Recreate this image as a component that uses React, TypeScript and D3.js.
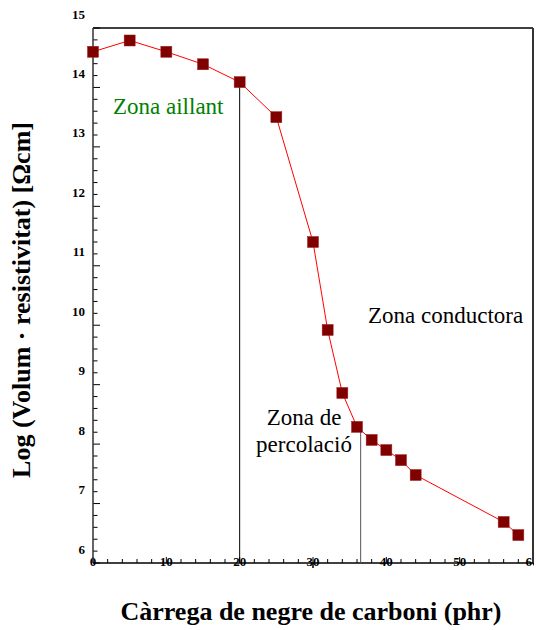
import React from "react";
import * as d3 from "d3";

const carbon = [0, 5, 10, 15, 20, 25, 30, 32, 34, 36, 38, 40, 42, 44, 56, 58];
const logRes = [14.6, 14.79, 14.6, 14.39, 14.09, 13.5, 11.4, 9.92, 8.86, 8.29, 8.07, 7.9, 7.73, 7.48, 6.69, 6.47];
const yTickLabels = [6, 7, 8, 9, 10, 11, 12, 13, 14, 15];
const xTickLabels = [0, 10, 20, 30, 40, 50, 60];
const insulatingLimit = 20;
const percolationLimit = 36.5;
const percolationValue = 8.29;

const W = 536;
const H = 630;
const left = 93, right = 533, top = 28, bottom = 563;

export default function App() {
  const x = d3.scaleLinear().domain([0, 60]).range([left, right]);
  const y = d3.scaleLinear().domain([6, 15]).range([bottom, top]);
  const line = d3.line<number>().x((_, i) => x(carbon[i])).y((d) => y(d));
  const yMinor = d3.range(6, 15.001, 0.2);
  const xMinor = d3.range(0, 60.001, 2);
  const serif = "'Liberation Serif', 'Times New Roman', serif";
  const ms = 11;
  const i20 = carbon.indexOf(insulatingLimit);

  return (
    <svg width={W} height={H} style={{ position: "absolute", left: 0, top: 0 }} fontFamily={serif}>
      <rect width={W} height={H} fill="#fff" />
      {/* y ticks */}
      {yMinor.map((v, i) => {
        const major = Math.abs(v - Math.round(v)) < 1e-6;
        return <line key={"ym" + i} x1={left} x2={left + (major ? 7 : 4.5)} y1={y(v)} y2={y(v)} stroke="#000" strokeWidth={1} />;
      })}
      {yTickLabels.map((v) => (
        <text key={"yl" + v} x={85} y={y(v) - 14} dy="0.35em" textAnchor="end" fontSize={13} fontWeight="bold">{v}</text>
      ))}
      {/* x ticks */}
      {xMinor.map((v, i) => (
        <line key={"xm" + i} x1={x(v)} x2={x(v)} y1={bottom} y2={bottom - (v % 10 === 0 ? 6 : 4)} stroke="#000" strokeWidth={1} />
      ))}
      <line x1={x(30)} x2={x(30)} y1={bottom} y2={bottom + 5} stroke="#000" strokeWidth={1.5} />
      {xTickLabels.map((v) => (
        <text key={"xl" + v} x={Math.min(x(v), 532)} y={566} textAnchor="middle" fontSize={13} fontWeight="bold">{v}</text>
      ))}
      <rect x={right + 1} y={540} width={4} height={30} fill="#fff" />
      {/* frame */}
      <line x1={left} x2={right} y1={top} y2={top} stroke="#000" strokeWidth={1.5} />
      <line x1={right} x2={right} y1={top} y2={bottom} stroke="#333" strokeWidth={2} />
      <line x1={left} x2={left} y1={top} y2={bottom} stroke="#333" strokeWidth={1.5} />
      <line x1={left} x2={right} y1={bottom} y2={bottom} stroke="#000" strokeWidth={1.5} />
      {/* zone lines */}
      <line x1={x(insulatingLimit)} x2={x(insulatingLimit)} y1={y(logRes[i20])} y2={bottom} stroke="#000" strokeWidth={1} />
      <line x1={x(percolationLimit)} x2={x(percolationLimit)} y1={y(percolationValue)} y2={bottom} stroke="#555" strokeWidth={1} />
      {/* data */}
      <path d={line(logRes) || ""} fill="none" stroke="#ff0000" strokeWidth={1} />
      {logRes.map((v, i) => (
        <rect key={"m" + i} x={x(carbon[i]) - ms / 2} y={y(v) - ms / 2} width={ms} height={ms} fill="#800000" stroke="#9a2020" strokeWidth={0.5} />
      ))}
      {/* annotations */}
      <text x={113} y={114} fontSize={23} fill="#008000">Zona aillant</text>
      <text x={368} y={323} fontSize={23} fill="#000">Zona conductora</text>
      <text x={304} y={425} fontSize={23} textAnchor="middle" fill="#000">Zona de</text>
      <text x={304} y={452} fontSize={23} textAnchor="middle" fill="#000">percolació</text>
      {/* titles */}
      <text transform="translate(30,300) rotate(-90)" textAnchor="middle" fontSize={26} fontWeight="bold">Log (Volum · resistivitat) [Ωcm]</text>
      <text x={311} y={620} textAnchor="middle" fontSize={26} fontWeight="bold">Càrrega de negre de carboni (phr)</text>
    </svg>
  );
}
